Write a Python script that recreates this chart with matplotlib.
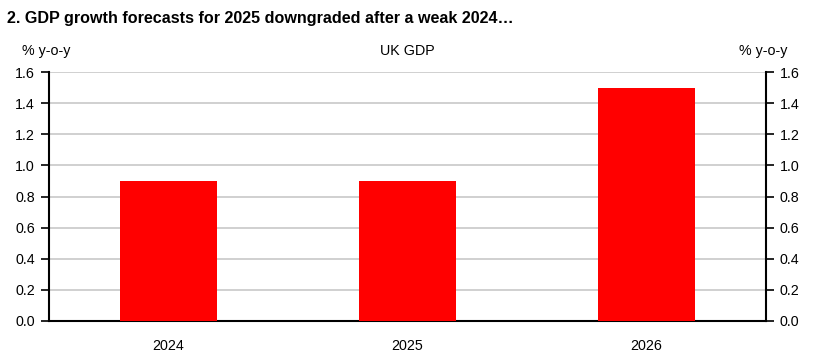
import matplotlib
matplotlib.use('Agg')
import matplotlib.pyplot as plt
import numpy as np

plt.rc('font', family='Liberation Sans', size=10)

years = ['2024', '2025', '2026']
gdp_growth = [0.9, 0.9, 1.5]
yticks = [0.0, 0.2, 0.4, 0.6, 0.8, 1.0, 1.2, 1.4, 1.6]

fig = plt.figure(figsize=(8.15, 3.56), dpi=100)
ax = fig.add_axes([49 / 815, 1 - 321 / 356, 717 / 815, 249 / 356])

x = np.arange(len(years))
ax.bar(x, gdp_growth, width=0.405, color='#ff0000', zorder=3)

ax.set_xlim(-0.5, len(years) - 0.5)
ax.set_ylim(0, 1.6)
ax.set_xticks(x)
ax.set_xticklabels(years)
ax.set_yticks(yticks)
ax.set_yticklabels(['%.1f' % t for t in yticks])
ax.tick_params(axis='x', length=0, pad=13, labelsize=10.3)
ax.tick_params(axis='y', direction='out', length=6, width=1.2, labelsize=10.3,
               left=True, right=True, labelleft=True, labelright=True, pad=4)
ax.grid(axis='y', color='#c8c8c8', linewidth=1.2, zorder=0)

ax.spines['top'].set_visible(False)
for s in ['left', 'right', 'bottom']:
    ax.spines[s].set_linewidth(1.5)
    ax.spines[s].set_color('black')

fig.text(7 / 815, 1 - 23.5 / 356, '2. GDP growth forecasts for 2025 downgraded after a weak 2024\u2026',
         fontsize=11.6, fontweight='bold', ha='left', va='baseline')
fig.text(22 / 815, 1 - 55 / 356, '% y-o-y', fontsize=10.3, ha='left', va='baseline')
fig.text(407 / 815, 1 - 55 / 356, 'UK GDP', fontsize=10.3, ha='center', va='baseline')
fig.text(787 / 815, 1 - 55 / 356, '% y-o-y', fontsize=10.3, ha='right', va='baseline')

fig.savefig('out.png', dpi=100)
